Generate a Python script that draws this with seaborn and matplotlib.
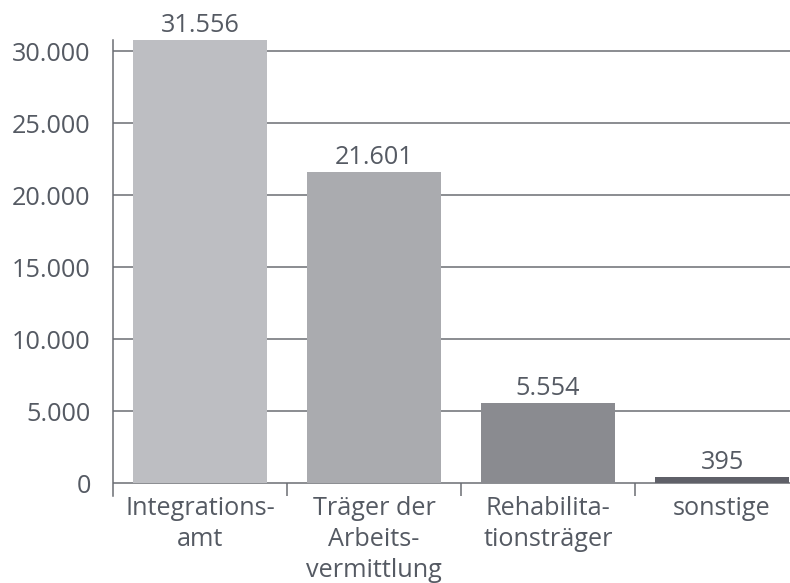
import matplotlib
matplotlib.use("Agg")
import matplotlib.pyplot as plt
import seaborn as sns
import pandas as pd

# Data
categories = ["Integrations-\namt", "Träger der\nArbeits-\nvermittlung",
              "Rehabilita-\ntionsträger", "sonstige"]
values = [31556, 21601, 5554, 395]
value_labels = ["31.556", "21.601", "5.554", "395"]
bar_colors = ["#bdbec2", "#aaabaf", "#8a8b90", "#5f6068"]
y_ticks = [0, 5000, 10000, 15000, 20000, 25000, 30000]
y_tick_labels = ["0", "5.000", "10.000", "15.000", "20.000", "25.000", "30.000"]

text_color = "#555a63"
line_color = "#6b6d73"
fs = 18.2

sns.set_style("white")
plt.rcParams["font.family"] = ["Open Sans", "DejaVu Sans"]

df = pd.DataFrame({"cat": categories, "val": values})

fig = plt.figure(figsize=(7.9, 5.83), dpi=100)
ax = fig.add_axes([0.143, 0.149, 0.857, 0.782])

sns.barplot(data=df, x="cat", y="val", hue="cat", palette=bar_colors,
            width=0.77, legend=False, ax=ax, zorder=3, saturation=1,
            linewidth=0)

y_top = 30764
ax.set_ylim(-900, y_top)
ax.set_xlim(-0.5, 3.39)

ax.set_yticks(y_ticks)
ax.set_yticklabels(y_tick_labels, fontsize=fs, color=text_color)
ax.yaxis.grid(True, color=line_color, linewidth=1.1, zorder=1)
ax.tick_params(axis="y", length=9, width=1.1, color=line_color, pad=7)

ax.set_xticks(range(len(categories)))
ax.set_xticklabels(categories, fontsize=fs, color=text_color, linespacing=1.3)
ax.tick_params(axis="x", length=0, pad=0)

# separators between categories below the zero line
ax.vlines([0.5, 1.5, 2.5], -900, 0, color=line_color, linewidth=1.1)

for s in ["top", "right", "bottom"]:
    ax.spines[s].set_visible(False)
ax.spines["left"].set_color(line_color)
ax.spines["left"].set_linewidth(1.1)
ax.spines["left"].set_zorder(4)

ax.set_xlabel("")
ax.set_ylabel("")

for i, (v, lab) in enumerate(zip(values, value_labels)):
    y = min(v, y_top)
    ax.text(i, y + 150, lab, ha="center", va="bottom", fontsize=fs,
            color=text_color, clip_on=False)

fig.savefig("out.png", dpi=100)
